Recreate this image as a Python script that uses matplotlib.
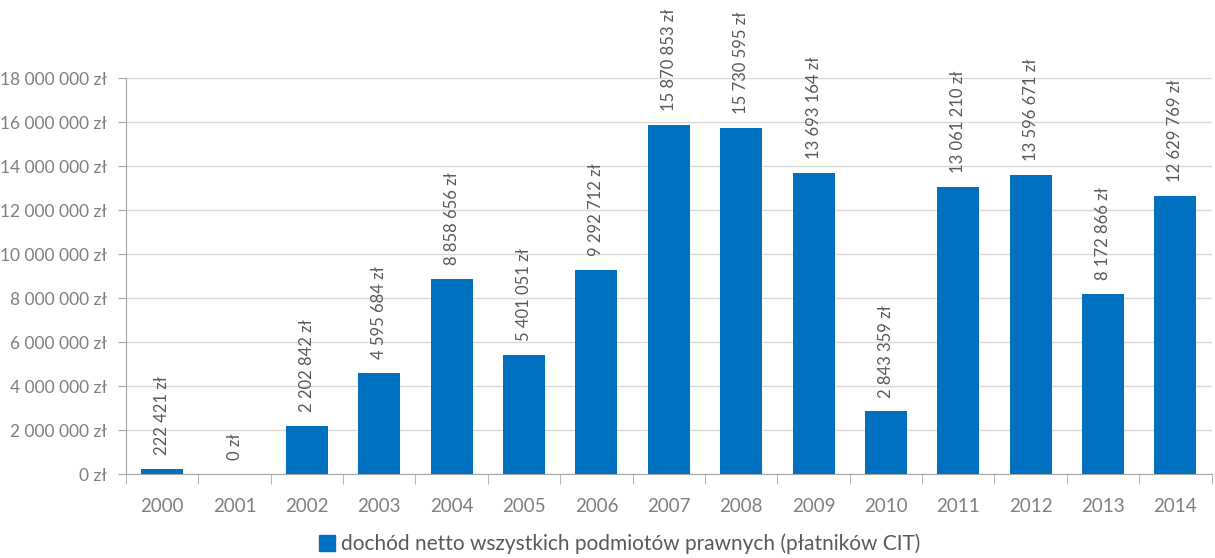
import numpy as np
import matplotlib as mpl
mpl.use('agg')
import matplotlib.pyplot as plt
from matplotlib.ticker import FuncFormatter

years = ['2000', '2001', '2002', '2003', '2004', '2005', '2006', '2007',
         '2008', '2009', '2010', '2011', '2012', '2013', '2014']
values = [222421, 0, 2202842, 4595684, 8858656, 5401051, 9292712, 15870853,
          15730595, 13693164, 2843359, 13061210, 13596671, 8172866, 12629769]
series_name = 'dochód netto wszystkich podmiotów prawnych (płatników CIT)'

plt.rcParams['font.family'] = ['Lato', 'DejaVu Sans']
txt_c = '#7f7f7f'
bar_c = '#0070C0'


def pln(v):
    return '{:,.0f} zł'.format(v).replace(',', ' ')


fig = plt.figure(figsize=(12.15, 5.58), dpi=100)
ax = fig.add_axes([0.1037, 0.1505, 0.8935, 0.7097])

x = np.arange(len(years))
ax.bar(x, values, width=0.58, color=bar_c, zorder=3)

# rotated value labels above bars
for xi, v in zip(x, values):
    ax.annotate(pln(v), (xi, v), xytext=(0, 10), textcoords='offset points',
                rotation=90, ha='center', va='bottom', fontsize=12,
                color='#595959', annotation_clip=False)

ax.set_xlim(-0.5, len(years) - 0.5)
ax.set_ylim(0, 18000000)
ax.set_yticks(np.arange(0, 18000001, 2000000))
ax.yaxis.set_major_formatter(FuncFormatter(lambda v, p: pln(v)))
ax.set_xticks(x)
ax.set_xticklabels(years)
ax.set_xticks(np.arange(-0.5, len(years), 1), minor=True)
ax.tick_params(axis='x', which='major', length=0, pad=17, labelsize=13.5, labelcolor=txt_c)
ax.tick_params(axis='x', which='minor', length=7, color='#a6a6a6', direction='out')
ax.tick_params(axis='y', length=6, color='#a6a6a6', labelsize=12.5, labelcolor=txt_c, pad=8)

ax.grid(axis='y', color='#d9d9d9', linewidth=1, zorder=0)
for s in ['top', 'right']:
    ax.spines[s].set_visible(False)
for s in ['left', 'bottom']:
    ax.spines[s].set_color('#a6a6a6')

handle = mpl.patches.Patch(color=bar_c)
fig.legend([handle], [series_name], loc='lower center', bbox_to_anchor=(0.51, -0.027),
           frameon=False, fontsize=15, labelcolor='#595959', handlelength=0.75,
           handleheight=0.75, handletextpad=0.3)

plt.savefig('out.png', dpi=100, facecolor='w')
